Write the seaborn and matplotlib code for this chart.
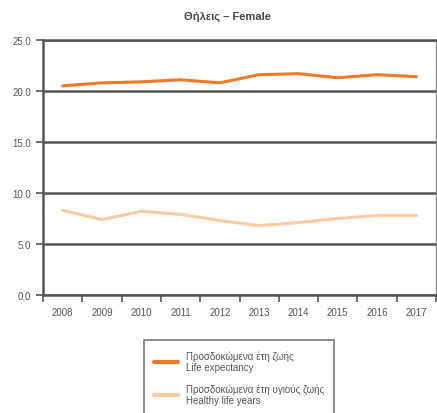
import matplotlib
matplotlib.use("Agg")
import matplotlib.pyplot as plt
import seaborn as sns
import pandas as pd
from matplotlib.ticker import FixedLocator

years = ["2008", "2009", "2010", "2011", "2012", "2013", "2014", "2015", "2016", "2017"]
life_expectancy = [20.5, 20.8, 20.9, 21.1, 20.8, 21.6, 21.7, 21.3, 21.6, 21.4]
healthy_years = [8.3, 7.4, 8.2, 7.9, 7.3, 6.8, 7.1, 7.5, 7.8, 7.8]
label_le = "Προσδοκώμενα έτη ζωής\nLife expectancy"
label_hy = "Προσδοκώμενα έτη υγιούς ζωής\nHealthy life years"
title = "Θήλεις – Female"
yticks = [0, 5, 10, 15, 20, 25]

sns.set_style("white")
plt.rcParams['font.family'] = ['Liberation Sans', 'DejaVu Sans']

df = pd.DataFrame({
    "year": years * 2,
    "value": life_expectancy + healthy_years,
    "series": [label_le] * len(years) + [label_hy] * len(years),
})

fig = plt.figure(figsize=(4.37, 4.14), dpi=100)
ax = fig.add_axes([43 / 437, 118 / 414, 393 / 437, 255 / 414])

palette = {label_le: "#F0782A", label_hy: "#FDCBA3"}
sns.lineplot(data=df, x="year", y="value", hue="series", palette=palette,
             linewidth=2.2, ax=ax, sort=False)

ax.set_xlim(-0.5, 9.5)
ax.set_ylim(0, 25)
ax.set_yticks(yticks)
ax.set_yticklabels([f"{v:.1f}" for v in yticks])
ax.set_xticks(range(len(years)))
ax.set_xticklabels(years)
ax.xaxis.set_minor_locator(FixedLocator([i + 0.5 for i in range(-1, len(years))]))
ax.tick_params(axis="x", which="major", length=0, pad=9, labelsize=7, colors="#555555")
ax.tick_params(axis="x", which="minor", length=5, width=1.2, color="#555555", bottom=True)
ax.tick_params(axis="y", length=5, width=1.2, color="#555555", labelsize=7, labelcolor="#555555", left=True)
ax.set_xlabel("")
ax.set_ylabel("")
ax.yaxis.grid(True, color="#555555", linewidth=1.8)
ax.set_axisbelow(True)
for side in ["left", "bottom", "top"]:
    ax.spines[side].set_color("#555555")
    ax.spines[side].set_linewidth(1.8)
ax.spines["right"].set_color("#888888")
ax.spines["right"].set_linewidth(1.0)

ax.get_legend().remove()
handles, labels = ax.get_legend_handles_labels()
leg = fig.legend(handles, labels, loc="upper center", bbox_to_anchor=(0.547, 0.187),
                 frameon=True, fancybox=False, fontsize=7, handlelength=2.5,
                 labelspacing=1.1, borderpad=1.0, labelcolor="#555555")
leg.get_frame().set_edgecolor("#555555")
leg.get_frame().set_linewidth(1.2)
for line in leg.get_lines():
    line.set_linewidth(3)

fig.text(227 / 437, 1 - 17 / 414, title, ha="center", va="center",
         fontsize=8, fontweight="bold", color="#444444")

fig.savefig("out.png", dpi=100)
